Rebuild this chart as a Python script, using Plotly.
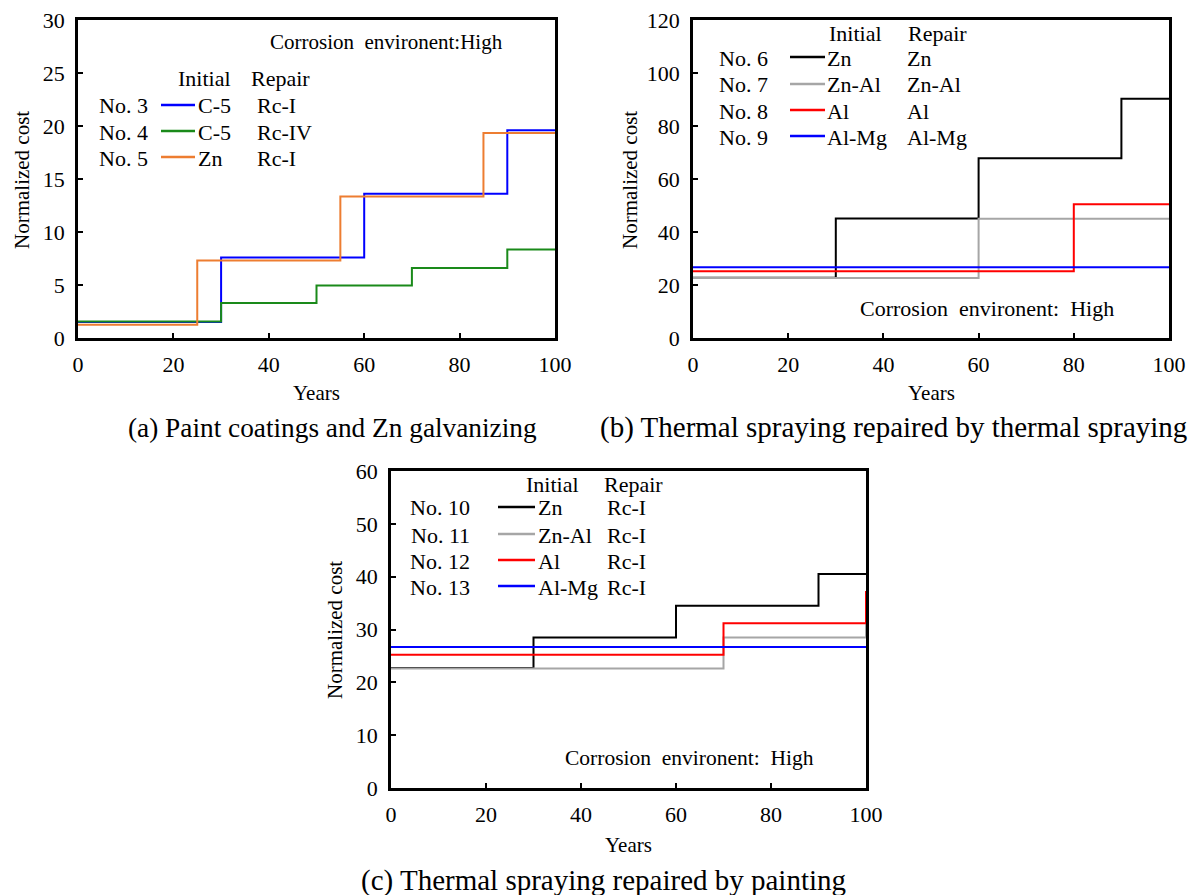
import plotly.graph_objects as go

W, H = 1195, 895
FONT = "Liberation Serif, Times New Roman, serif"

# ---------------- data ----------------
# (a) Paint coatings and Zn galvanizing
years_3 = [0, 30, 60, 90, 100]
cost_3 = [1.5, 7.6, 13.6, 19.6, 19.6]
years_4 = [0, 30, 50, 70, 90, 100]
cost_4 = [1.55, 3.3, 4.95, 6.6, 8.35, 8.35]
years_5 = [0, 25, 55, 85, 100]
cost_5 = [1.25, 7.3, 13.35, 19.35, 19.35]

# (b) Thermal spraying repaired by thermal spraying
years_6 = [0, 30, 60, 90, 100]
cost_6 = [22.7, 45.1, 67.8, 90.3, 90.3]
years_7 = [0, 60, 100]
cost_7 = [22.6, 45.0, 45.0]
years_8 = [0, 80, 100]
cost_8 = [25.2, 50.5, 50.5]
years_9 = [0, 100]
cost_9 = [26.7, 26.7]

# (c) Thermal spraying repaired by painting
years_10 = [0, 30, 60, 90, 100]
cost_10 = [22.7, 28.5, 34.5, 40.5, 40.5]
years_11 = [0, 70, 100]
cost_11 = [22.6, 28.5, 34.5]
years_12 = [0, 70, 100]
cost_12 = [25.2, 31.2, 37.3]
years_13 = [0, 100]
cost_13 = [26.7, 26.7]

nos_a = ["No. 3", "No. 4", "No. 5"]
init_a = ["C-5", "C-5", "Zn"]
rep_a = ["Rc-I", "Rc-IV", "Rc-I"]
nos_b = ["No. 6", "No. 7", "No. 8", "No. 9"]
init_b = ["Zn", "Zn-Al", "Al", "Al-Mg"]
rep_b = ["Zn", "Zn-Al", "Al", "Al-Mg"]
nos_c = ["No. 10", "No. 11", "No. 12", "No. 13"]
init_c = ["Zn", "Zn-Al", "Al", "Al-Mg"]
rep_c = ["Rc-I", "Rc-I", "Rc-I", "Rc-I"]

x_ticks = [0, 20, 40, 60, 80, 100]

# ---------------- styling ----------------
C_BLUE = "#0000FF"
C_GREEN = "#1A8A1A"
C_ORANGE = "#ED7D31"
C_BLACK = "#000000"
C_GRAY = "#A6A6A6"
C_RED = "#FF0000"


def px(x):
    return x / W


def py(y):
    return 1 - y / H


# plot boxes in pixels: (left, right, top, bottom)
boxes = {
    "a": (78, 555, 20, 338),
    "b": (693, 1169, 20, 338),
    "c": (391, 866, 471, 788),
}

fig = go.Figure()

panels = [
    ("a", "x", "y", [(years_3, cost_3, C_BLUE, nos_a[0]), (years_4, cost_4, C_GREEN, nos_a[1]),
                     (years_5, cost_5, C_ORANGE, nos_a[2])]),
    ("b", "x2", "y2", [(years_6, cost_6, C_BLACK, nos_b[0]), (years_7, cost_7, C_GRAY, nos_b[1]),
                       (years_8, cost_8, C_RED, nos_b[2]), (years_9, cost_9, C_BLUE, nos_b[3])]),
    ("c", "x3", "y3", [(years_10, cost_10, C_BLACK, nos_c[0]), (years_11, cost_11, C_GRAY, nos_c[1]),
                       (years_12, cost_12, C_RED, nos_c[2]), (years_13, cost_13, C_BLUE, nos_c[3])]),
]

for key, xa, ya, series in panels:
    for xs, ys, col, name in series:
        fig.add_trace(go.Scatter(x=xs, y=ys, mode="lines", line=dict(color=col, width=2, shape="hv"),
                                 name=name, xaxis=xa, yaxis=ya, showlegend=False))

tickfont = dict(family=FONT, size=22, color="black")


def axis_common():
    return dict(showgrid=False, zeroline=False, showline=True, linecolor="black", linewidth=2.5,
                mirror=True, ticks="inside", ticklen=5, tickwidth=2, tickcolor="black",
                tickfont=tickfont, layer="below traces", automargin=False)


y_ranges = {"a": (30, 5), "b": (120, 20), "c": (60, 10)}
axis_names = {"a": ("xaxis", "yaxis", "y", "x"), "b": ("xaxis2", "yaxis2", "y2", "x2"),
              "c": ("xaxis3", "yaxis3", "y3", "x3")}

layout_axes = {}
for key, (l, r, t, b) in boxes.items():
    xn, yn, yref, xref = axis_names[key]
    ymax, ydt = y_ranges[key]
    xa = axis_common()
    xa.update(domain=[px(l), px(r)], range=[0, 100], tickvals=x_ticks, anchor=yref,
              ticklabelstandoff=5)
    ya = axis_common()
    ya.update(domain=[py(b), py(t)], range=[0, ymax], tick0=0, dtick=ydt, anchor=xref,
              ticklabelstandoff=6)
    layout_axes[xn] = xa
    layout_axes[yn] = ya

annotations = []
shapes = []


def text(x, y, s, size=22, xanchor="center", angle=0):
    annotations.append(dict(x=px(x), y=py(y), xref="paper", yref="paper", text=s, showarrow=False,
                            xanchor=xanchor, yanchor="middle", textangle=angle,
                            font=dict(family=FONT, size=size, color="black")))


# axis titles
text(316, 393, "Years", size=21)
text(931, 393, "Years", size=21)
text(628, 845, "Years", size=21)
text(22, 180, "Normalized cost", size=21, angle=-90)
text(630, 180, "Normalized cost", size=21, angle=-90)
text(335, 630, "Normalized cost", size=21, angle=-90)

# captions
text(332, 428, "(a) Paint coatings and Zn galvanizing", size=27.3)
text(893, 428, "(b) Thermal spraying repaired by thermal spraying", size=29)
text(603, 880, "(c) Thermal spraying repaired by painting", size=29)

# environment notes
text(386, 42, "Corrosion\u00a0 environent:High", size=21)
text(987, 308, "Corrosion\u00a0 environent:\u00a0 High", size=22)
text(689, 758, "Corrosion\u00a0 environent:\u00a0 High", size=21.5)


def legend(nos, inits, reps, colors, no_cx, line_x0, line_x1, init_x, rep_x, hdr_y, row_ys,
           init_hdr_cx, rep_hdr_cx):
    text(init_hdr_cx, hdr_y, "Initial")
    text(rep_hdr_cx, hdr_y, "Repair")
    for n, i, rp, col, yy in zip(nos, inits, reps, colors, row_ys):
        text(no_cx, yy, n)
        shapes.append(dict(type="line", xref="paper", yref="paper", x0=px(line_x0), x1=px(line_x1),
                           y0=py(yy - 1), y1=py(yy - 1), line=dict(color=col, width=2.5)))
        text(init_x, yy, i, xanchor="left")
        text(rep_x, yy, rp, xanchor="left")


legend(nos_a, init_a, rep_a, [C_BLUE, C_GREEN, C_ORANGE], 123, 161, 195, 196, 255, 79,
       [106, 132, 158], 204, 280)
legend(nos_b, init_b, rep_b, [C_BLACK, C_GRAY, C_RED, C_BLUE], 743, 790, 825, 825, 905, 34,
       [58, 85, 111, 137], 855, 937)
legend(nos_c, init_c, rep_c, [C_BLACK, C_GRAY, C_RED, C_BLUE], 440, 498, 535, 536, 605, 484,
       [508, 535, 561, 587], 552, 633)

fig.update_layout(width=W, height=H, autosize=False, margin=dict(l=0, r=0, t=0, b=0),
                  paper_bgcolor="white", plot_bgcolor="white", showlegend=False,
                  annotations=annotations, shapes=shapes, **layout_axes)

fig.write_html("out.html")
